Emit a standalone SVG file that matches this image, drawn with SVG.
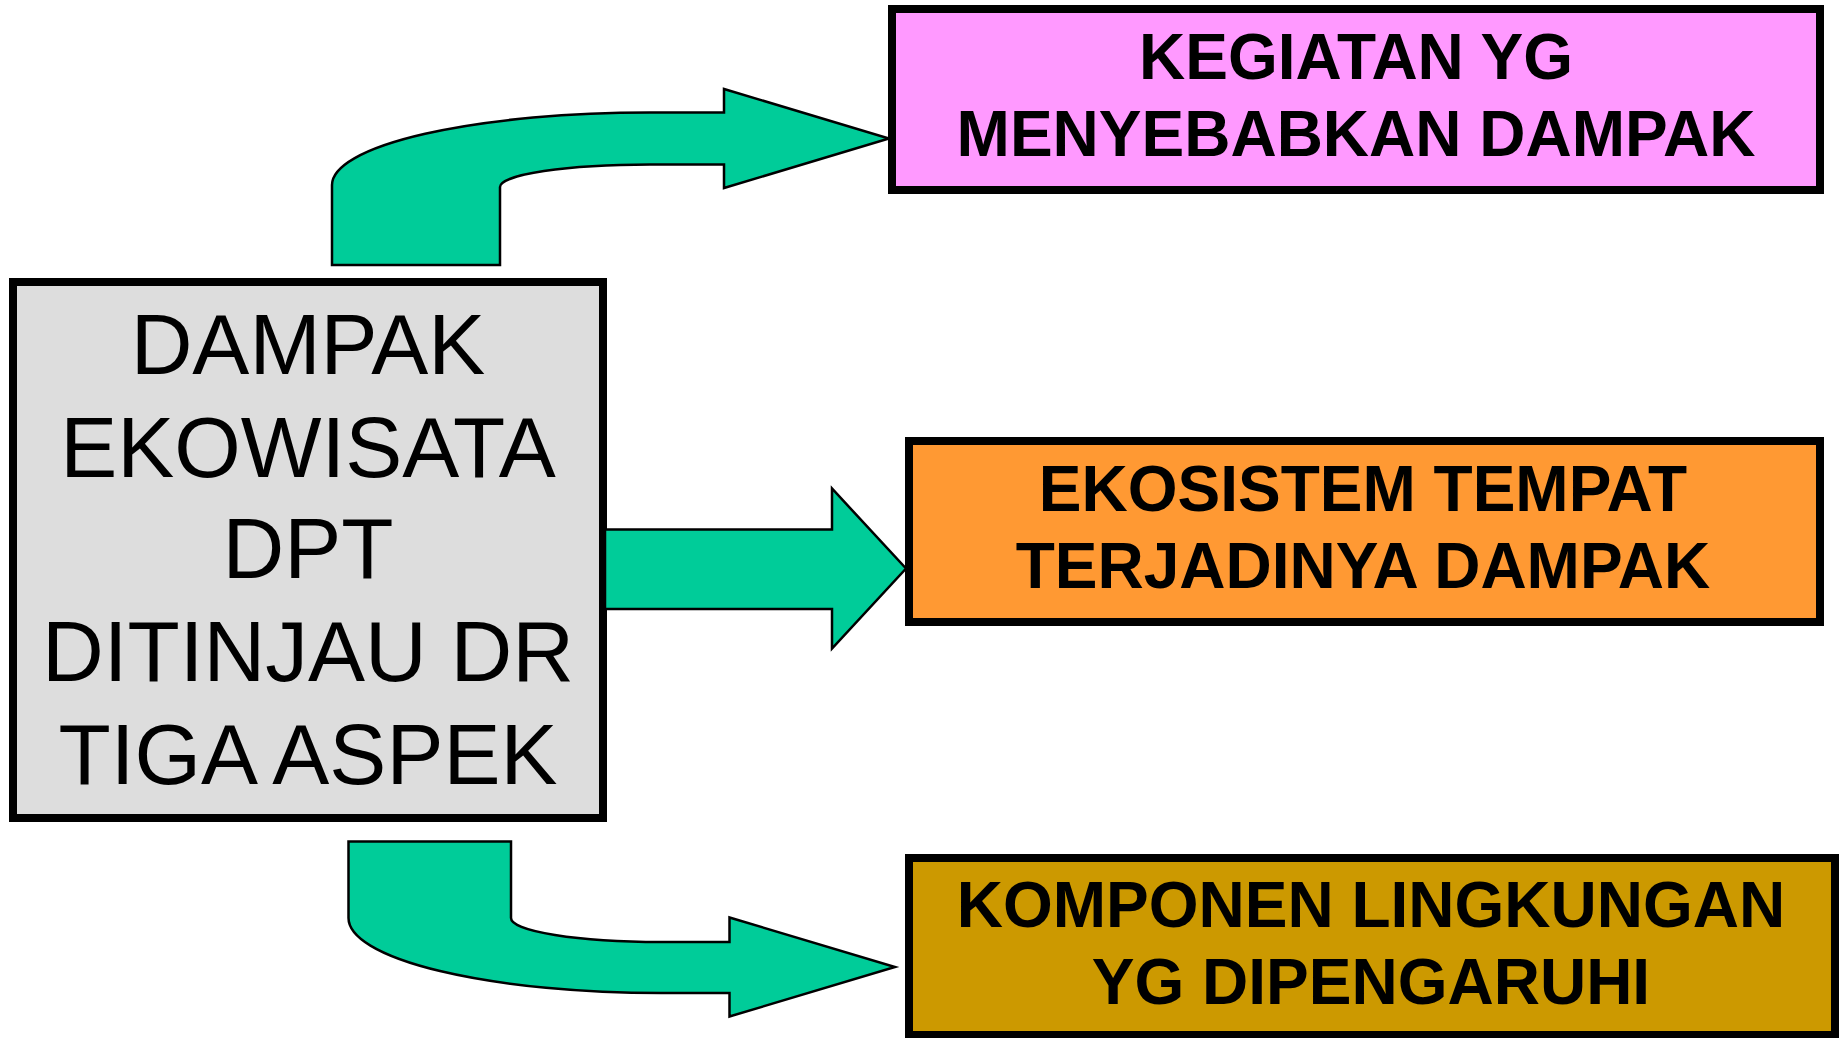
<svg xmlns="http://www.w3.org/2000/svg" width="1841" height="1038" viewBox="0 0 1841 1038">
<style>
.box{stroke:#000;stroke-width:8}
.arrow{fill:#00CC99;stroke:#000;stroke-width:2.5;stroke-linejoin:miter}
.main{font-family:"Liberation Sans",Arial,sans-serif;font-size:85.5px;fill:#000;text-anchor:middle}
.lbl{font-family:"Liberation Sans",Arial,sans-serif;font-size:64px;font-weight:bold;fill:#000;text-anchor:middle}
</style>
<rect width="1841" height="1038" fill="#fff"/>
<g id="node-dampak">
<rect class="box" x="13" y="282" width="590" height="536" fill="#DDDDDD" stroke-width="7"/>
<text class="main" x="308" y="374">DAMPAK</text>
<text class="main" x="308" y="477">EKOWISATA</text>
<text class="main" x="308" y="578">DPT</text>
<text class="main" x="308" y="681">DITINJAU DR</text>
<text class="main" x="308" y="784">TIGA ASPEK</text>
</g>
<g id="node-kegiatan">
<rect class="box" x="892" y="9" width="928" height="181" fill="#FF99FF"/>
<text class="lbl" x="1356" y="79">KEGIATAN YG</text>
<text class="lbl" x="1356" y="156">MENYEBABKAN DAMPAK</text>
</g>
<g id="node-ekosistem">
<rect class="box" x="909" y="441" width="911" height="181" fill="#FF9933"/>
<text class="lbl" x="1363" y="511">EKOSISTEM TEMPAT</text>
<text class="lbl" x="1363" y="588">TERJADINYA DAMPAK</text>
</g>
<g id="node-komponen">
<rect class="box" x="909" y="858" width="926" height="177" fill="#CC9900"/>
<text class="lbl" x="1371" y="927">KOMPONEN LINGKUNGAN</text>
<text class="lbl" x="1371" y="1004">YG DIPENGARUHI</text>
</g>
<g id="connectors">
<path class="arrow" d="M 332 265 L 332 185 A 318 72.5 0 0 1 650 112.5 L 724 112.5 L 724 89 L 889 138.5 L 724 188 L 724 164.5 L 650 164.5 A 150 22.5 0 0 0 500 187 L 500 265 Z"/>
<path class="arrow" d="M 605 529.5 L 832 529.5 L 832 488.5 L 906 568.5 L 832 648.5 L 832 609 L 605 609 Z"/>
<path class="arrow" d="M 348.5 841.5 L 511 841.5 L 511 918 A 150 24 0 0 0 661 942 L 729.5 942 L 729.5 917.5 L 895 967 L 729.5 1016.5 L 729.5 993 L 661 993 A 312.5 75 0 0 1 348.5 918 Z"/>
</g>
</svg>
